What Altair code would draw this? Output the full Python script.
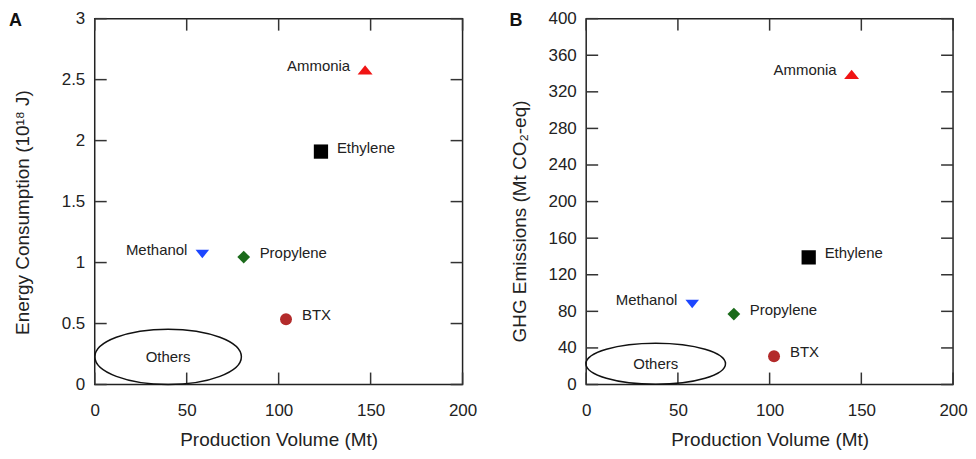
import altair as alt
import pandas as pd

# ---------------- data ----------------
names = ["Ammonia", "Ethylene", "Methanol", "Propylene", "BTX"]

# Panel A: energy consumption (10^18 J) vs production volume (Mt)
a_volume = [147, 123, 58.5, 81, 104]
a_energy = [2.58, 1.91, 1.07, 1.045, 0.535]

# Panel B: GHG emissions (Mt CO2-eq) vs production volume (Mt)
b_volume = [144.7, 121.3, 57.8, 80.5, 102.4]
b_ghg = [339, 139, 88, 77, 31]

# "Others" ellipse centres
a_others = {"x": [39.9], "y": [0.227], "t": ["Others"]}
b_others = {"x": [37.9], "y": [22.7], "t": ["Others"]}

x_ticks = [0, 50, 100, 150, 200]
a_ticks = [0, 0.5, 1, 1.5, 2, 2.5, 3]
b_ticks = [0, 40, 80, 120, 160, 200, 240, 280, 320, 360, 400]

labels_left_of_marker = ["Ammonia", "Methanol"]
labels_right_of_marker = ["Ethylene", "Propylene", "BTX"]

# ---------------- styles ----------------
FONT = "Liberation Sans"
TXT = "#222222"
colors = ["#f01414", "#000000", "#1c46ff", "#1b6b1b", "#b32b2b"]
tri_up = "M0,-0.62L1,0.62L-1,0.62Z"
tri_down = "M-1,-0.62L1,-0.62L0,0.62Z"
shapes = [tri_up, "square", tri_down, "diamond", "circle"]
sizes = [225, 144, 225, 256, 132]

W_A, W_B, H = 369, 368, 367
TICK = 12


def ellipse_path(r):
    k = 0.5523
    kr = k * r
    return (
        f"M-1,0C-1,{-kr:.4f},{-k},{-r:.4f},0,{-r:.4f}"
        f"C{k},{-r:.4f},1,{-kr:.4f},1,0"
        f"C1,{kr:.4f},{k},{r:.4f},0,{r:.4f}"
        f"C{-k},{r:.4f},-1,{kr:.4f},-1,0Z"
    )


def panel(xv, yv, ydomain, yticks, yfmt, ytitle, letter, letter_dx, others, ell_w,
          ell_ratio, ytitle_pad, ytitle_y, width):
    df = pd.DataFrame({"name": names, "x": xv, "y": yv})
    xs = alt.Scale(domain=[0, 200], nice=False, zero=False)
    ys = alt.Scale(domain=ydomain, nice=False, zero=False)

    ax_bottom = alt.Axis(orient="bottom", values=x_ticks, ticks=False, tickSize=0,
                         labelPadding=18, titlePadding=12, labelFlush=False,
                         labelOverlap=False, title="Production Volume (Mt)")
    ax_left = alt.Axis(orient="left", values=yticks, format=yfmt, ticks=False,
                       tickSize=0, labelPadding=10, titlePadding=ytitle_pad,
                       labelOverlap=False, title=ytitle, titleY=ytitle_y)

    def X(field):
        return alt.X(field, scale=xs, axis=ax_bottom)

    def Y(field):
        return alt.Y(field, scale=ys, axis=ax_left)

    pts = alt.Chart(df).mark_point(filled=True, opacity=1, strokeWidth=0).encode(
        x=X("x:Q"),
        y=Y("y:Q"),
        shape=alt.Shape("name:N", scale=alt.Scale(domain=names, range=shapes), legend=None),
        color=alt.Color("name:N", scale=alt.Scale(domain=names, range=colors), legend=None),
        size=alt.Size("name:O", scale=alt.Scale(domain=names, range=sizes), legend=None),
    )

    # inward tick marks on all four sides, placed through the scales
    xt = pd.DataFrame({"x": x_ticks})
    yt = pd.DataFrame({"y": yticks})
    rule = dict(color="#333333", strokeWidth=1.5)
    t_bottom = alt.Chart(xt).mark_rule(**rule).encode(
        x=X("x:Q"), y=alt.value(H), y2=alt.value(H - TICK))
    t_top = alt.Chart(xt).mark_rule(**rule).encode(
        x=X("x:Q"), y=alt.value(0), y2=alt.value(TICK))
    t_left = alt.Chart(yt).mark_rule(**rule).encode(
        y=Y("y:Q"), x=alt.value(0), x2=alt.value(TICK))
    t_right = alt.Chart(yt).mark_rule(**rule).encode(
        y=Y("y:Q"), x=alt.value(width), x2=alt.value(width - TICK))

    lab_left = alt.Chart(df).transform_filter(
        alt.FieldOneOfPredicate(field="name", oneOf=labels_left_of_marker)
    ).mark_text(align="right", baseline="middle", dx=-15, dy=-4, fontSize=15,
                font=FONT, color=TXT).encode(x=X("x:Q"), y=Y("y:Q"), text="name:N")
    lab_right = alt.Chart(df).transform_filter(
        alt.FieldOneOfPredicate(field="name", oneOf=labels_right_of_marker)
    ).mark_text(align="left", baseline="middle", dx=16, dy=-4, fontSize=15,
                font=FONT, color=TXT).encode(x=X("x:Q"), y=Y("y:Q"), text="name:N")

    odf = pd.DataFrame(others)
    ell = alt.Chart(odf).mark_point(shape=ellipse_path(ell_ratio), filled=False,
                                    stroke="#111111", strokeWidth=1.5, opacity=1,
                                    size=ell_w * ell_w).encode(x=X("x:Q"), y=Y("y:Q"))
    oth = alt.Chart(odf).mark_text(align="center", baseline="middle", fontSize=15,
                                   font=FONT, color=TXT).encode(
        x=X("x:Q"), y=Y("y:Q"), text="t:N")

    let = alt.Chart(pd.DataFrame({"t": [letter]})).mark_text(
        align="left", baseline="middle", fontSize=18, fontWeight="bold",
        font=FONT, color="#111111").encode(
        text="t:N", x=alt.value(letter_dx), y=alt.value(2),
    )
    return alt.layer(pts, t_bottom, t_top, t_left, t_right, lab_left, lab_right,
                     ell, oth, let).properties(width=width, height=H)


pa = panel(a_volume, a_energy, [0, 3], a_ticks, "~g", "Energy Consumption (10¹⁸ J)",
           "A", -86, a_others, 147, 0.378, 29, 194, W_A)
pb = panel(b_volume, b_ghg, [0, 400], b_ticks, "d", "GHG Emissions (Mt CO₂-eq)",
           "B", -77, b_others, 140, 0.294, 19, 203, W_B)

chart = alt.hconcat(pa, pb, spacing=31).properties(padding=0).configure_view(
    stroke="#222222", strokeWidth=1.5
).configure_axis(
    grid=False, domain=False, labelFont=FONT, titleFont=FONT, labelFontSize=17,
    titleFontSize=19, titleFontWeight="normal", labelColor=TXT, titleColor=TXT,
)

chart.save("out.html", embed_options={"renderer": "svg", "actions": False})
